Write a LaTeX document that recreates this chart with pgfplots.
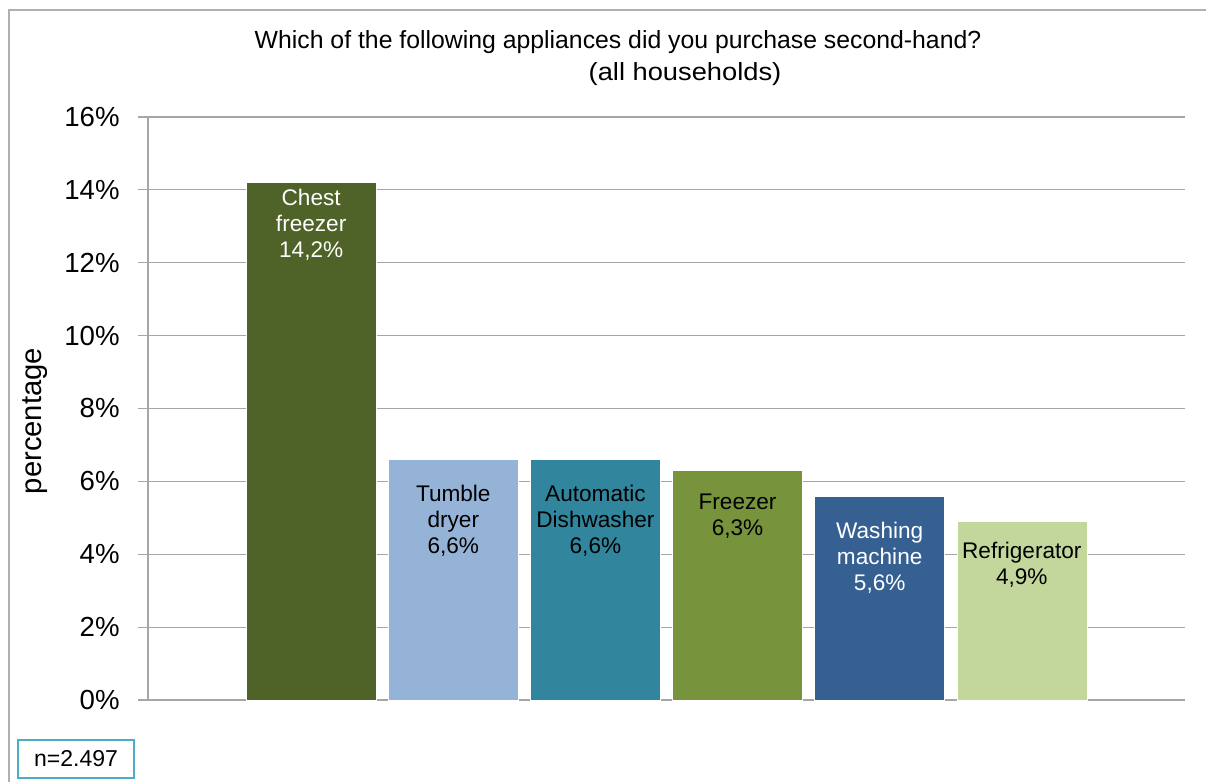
\documentclass[border=0pt]{standalone}
\usepackage{pgfplots}
\pgfplotsset{compat=1.18}
\usepackage{fontspec}
\setmainfont{Liberation Sans}
\definecolor{c1}{HTML}{4F6228}
\definecolor{c2}{HTML}{95B3D7}
\definecolor{c3}{HTML}{31859C}
\definecolor{c4}{HTML}{77933C}
\definecolor{c5}{HTML}{366092}
\definecolor{c6}{HTML}{C3D69B}
\definecolor{gridc}{HTML}{A6A6A6}
\definecolor{framec}{HTML}{B0B0B0}
\definecolor{nbox}{HTML}{4BACC6}
\begin{document}
\begin{tikzpicture}
\useasboundingbox (0,0) rectangle (603pt,391pt);
\clip (0,0) rectangle (603pt,391pt);
\fill[white] (0,0) rectangle (603pt,391pt);
\draw[framec, line width=0.8pt] (4.5pt,-5pt) -- (4.5pt,386pt) -- (610pt,386pt);
\begin{axis}[
  at={(74pt,41pt)}, anchor=south west,
  scale only axis, width=518.5pt, height=291.5pt,
  xmin=-1.148, xmax=6.148, ymin=0, ymax=16,
  xtick=\empty,
  ytick={0,2,...,16},
  ytick pos=left,
  tick align=outside,
  major tick length=5pt,
  ytick style={gridc, line width=0.6pt},
  ymajorgrids,
  major grid style={gridc, line width=0.6pt},
  axis line style={draw=none},
  yticklabel={\pgfmathprintnumber{\tick}\%},
  /pgf/number format/assume math mode=true,
  yticklabel style={font=\fontsize{13.8}{16}\selectfont, inner sep=0pt, xshift=-9pt},
  ybar, bar width=65pt, bar shift=0pt,
  clip=false,
]
\addplot[fill=c1, draw=white, line width=0.3pt] coordinates {(0,14.2)};
\addplot[fill=c2, draw=white, line width=0.3pt] coordinates {(1,6.6)};
\addplot[fill=c3, draw=white, line width=0.3pt] coordinates {(2,6.6)};
\addplot[fill=c4, draw=white, line width=0.3pt] coordinates {(3,6.3)};
\addplot[fill=c5, draw=white, line width=0.3pt] coordinates {(4,5.6)};
\addplot[fill=c6, draw=white, line width=0.3pt] coordinates {(5,4.9)};
\draw[gridc, line width=0.6pt] (rel axis cs:0,0) -- (rel axis cs:0,1);
\begin{scope}[every node/.style={align=center, font=\fontsize{11.3}{13}\selectfont, inner sep=0pt}]
\node[white] at (axis cs:0,13.05) {Chest\\freezer\\14,2\%};
\node[black] at (axis cs:1,4.93) {Tumble\\dryer\\6,6\%};
\node[black] at (axis cs:2,4.93) {Automatic\\Dishwasher\\6,6\%};
\node[black] at (axis cs:3,5.04) {Freezer\\6,3\%};
\node[white] at (axis cs:4,3.90) {Washing\\machine\\5,6\%};
\node[black] at (axis cs:5,3.71) {Refrigerator\\4,9\%};
\end{scope}
\end{axis}
\node[rotate=90, font=\fontsize{14.6}{16}\selectfont] at (17.5pt,180.5pt) {percentage};
\node[font=\fontsize{12.4}{15}\selectfont] at (309pt,370pt) {Which of the following appliances did you purchase second-hand?};
\node[font=\fontsize{12.4}{15}\selectfont, xscale=1.1] at (342.5pt,354pt) {(all households)};
\node[draw=nbox, line width=1pt, minimum width=58pt, minimum height=19pt, inner sep=0pt, font=\fontsize{11.5}{13}\selectfont] at (38pt,11.5pt) {n=2.497};
\end{tikzpicture}
\end{document}
